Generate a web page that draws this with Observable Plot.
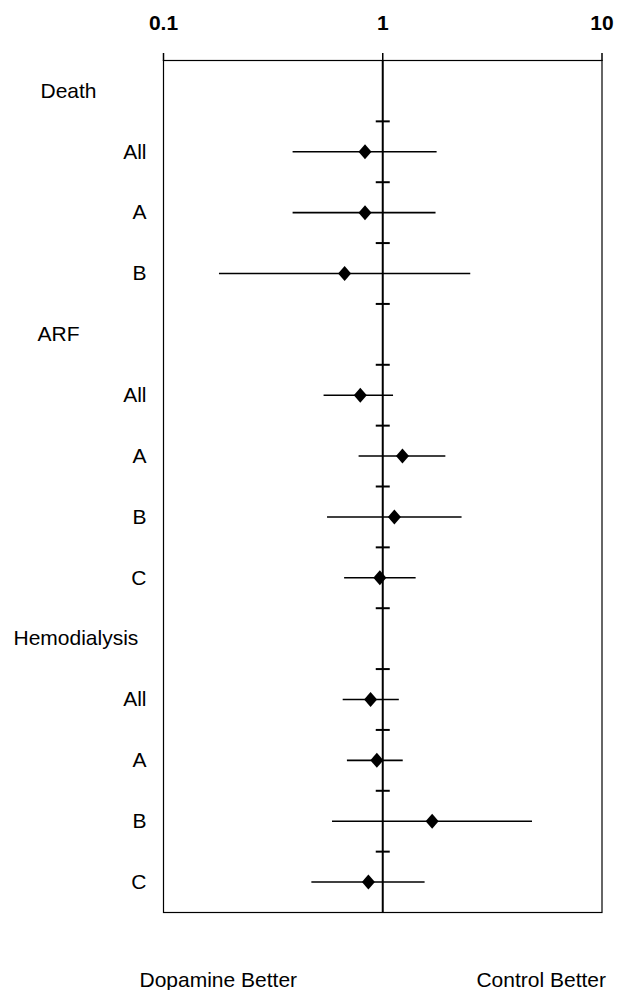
<!DOCTYPE html>
<html><head><meta charset="utf-8">
<script src="https://cdn.jsdelivr.net/npm/d3@7"></script>
<script src="https://cdn.jsdelivr.net/npm/@observablehq/plot@0.6"></script>
<style>body{margin:0;background:#fff;} #chart svg{display:block;}</style>
</head><body><div id="chart"></div>
<script>
// ---- data ----
const groups = ["Death", "ARF", "Hemodialysis"];
const rowGroup = ["Death","Death","Death","ARF","ARF","ARF","ARF","Hemodialysis","Hemodialysis","Hemodialysis","Hemodialysis"];
const rowLabels = ["All","A","B","All","A","B","C","All","A","B","C"];
const estimate = [0.83, 0.83, 0.67, 0.79, 1.23, 1.13, 0.97, 0.88, 0.94, 1.68, 0.86];
const lower    = [0.39, 0.39, 0.18, 0.54, 0.78, 0.56, 0.67, 0.66, 0.69, 0.59, 0.475];
const upper    = [1.77, 1.75, 2.52, 1.12, 1.94, 2.30, 1.42, 1.19, 1.24, 4.82, 1.56];
const axisTicks = [0.1, 1, 10];
const sideLabels = ["Dopamine Better", "Control Better"];

// ---- build row table ----
const headers = [], rows = [];
let slot = 0;
groups.forEach(g => {
  headers.push({slot: slot++, label: g});
  rowLabels.forEach((l, i) => {
    if (rowGroup[i] === g) rows.push({slot: slot++, label: l, est: estimate[i], lo: lower[i], hi: upper[i]});
  });
});
const nSlots = slot;
const between = d3.range(0.5, nSlots - 1, 1);

const font = "'Liberation Sans', Arial, Helvetica, sans-serif";
const diamond = {draw(ctx, size) {
  const r = Math.sqrt(size / Math.PI), w = r * 0.87;
  ctx.moveTo(0, -r); ctx.lineTo(w, 0); ctx.lineTo(0, r); ctx.lineTo(-w, 0); ctx.closePath();
}};
const hline = {draw(ctx, size) {
  const r = Math.sqrt(size / Math.PI);
  ctx.moveTo(-r, 0); ctx.lineTo(r, 0);
}};
const headerIndent = {"Death": -123, "ARF": -126, "Hemodialysis": -150};

const chart = Plot.plot({
  width: 628, height: 990,
  marginTop: 60, marginBottom: 78, marginLeft: 163, marginRight: 26.5,
  style: {fontFamily: font, background: "#fff", color: "#000"},
  x: {type: "log", domain: [0.1, 10], axis: null},
  y: {domain: [-0.5, nSlots - 0.5], reverse: true, axis: null},
  marks: [
    Plot.frame({stroke: "#000", strokeWidth: 1.2}),
    Plot.axisX({anchor: "top", ticks: axisTicks, tickSize: 8, tickFormat: () => "", stroke: "#000", strokeWidth: 1.5}),
    Plot.text(axisTicks, {x: d => d, frameAnchor: "top", dy: -37, text: d => String(d), fontSize: 21, fontWeight: "bold", lineAnchor: "middle", fill: "#000"}),
    Plot.ruleX([1], {stroke: "#000", strokeWidth: 2}),
    Plot.dot(between, {x: () => 1, y: d => d, symbol: hline, r: 7, stroke: "#000", strokeWidth: 2, fill: "none"}),
    Plot.ruleY(rows, {y: "slot", x1: "lo", x2: "hi", stroke: "#000", strokeWidth: 1.6}),
    Plot.dot(rows, {x: "est", y: "slot", symbol: diamond, r: 7.5, fill: "#000", stroke: "none"}),
    Plot.text(rows, {y: "slot", text: "label", frameAnchor: "left", dx: -17, textAnchor: "end", fontSize: 21, lineAnchor: "middle", fill: "#000"}),
    ...headers.map(h => Plot.text([h], {y: "slot", text: "label", frameAnchor: "left", dx: headerIndent[h.label], textAnchor: "start", fontSize: 21, lineAnchor: "middle", fill: "#000"})),
    Plot.text([sideLabels[0]], {frameAnchor: "bottom-left", dx: -24, dy: 68, textAnchor: "start", fontSize: 21, lineAnchor: "middle", fill: "#000"}),
    Plot.text([sideLabels[1]], {frameAnchor: "bottom-right", dx: 4, dy: 68, textAnchor: "end", fontSize: 21, lineAnchor: "middle", fill: "#000"})
  ]
});
document.getElementById("chart").appendChild(chart);
</script>
</body></html>
